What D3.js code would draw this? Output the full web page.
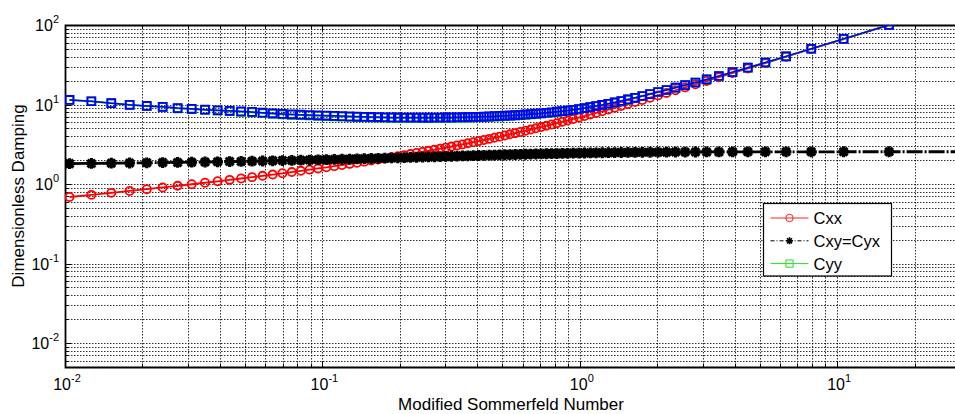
<!doctype html>
<html lang="en">
<head>
	<meta charset="UTF-8">
	<title>Dimensionless Damping vs Modified Sommerfeld Number</title>
	<style>
		body { margin: 0; background: #fff; }
		svg { display: block; font-family: Arial, "Liberation Sans", sans-serif; }
		.grid line { stroke: #000; stroke-width: 1; stroke-dasharray: 1.5, 1.5; opacity: 0.8; }
		.tick-label { font-size: 16px; fill: #000; }
		.axis-title { font-size: 17px; fill: #000; }
		.legend-text { font-size: 16.5px; fill: #000; }
	</style>
</head>
<body>
	<script src="https://cdn.jsdelivr.net/npm/d3@7"></script>
	<script>
		// modified Sommerfeld number for eccentricity 0.01 ... 0.90
		var sommerfeld = [
			31.82, 15.90, 10.59, 7.928, 6.329, 5.261, 4.496, 3.920, 3.471, 3.110,
			2.814, 2.565, 2.354, 2.172, 2.014, 1.874, 1.750, 1.639, 1.539, 1.449,
			1.366, 1.291, 1.222, 1.157, 1.098, 1.043, 0.9919, 0.9429, 0.8976, 0.8551,
			0.8150, 0.7771, 0.7413, 0.7073, 0.6751, 0.6444, 0.6152, 0.5874, 0.5609, 0.5355,
			0.5113, 0.4880, 0.4658, 0.4445, 0.4240, 0.4044, 0.3855, 0.3674, 0.3499, 0.3332,
			0.3170, 0.3015, 0.2866, 0.2722, 0.2583, 0.2450, 0.2322, 0.2198, 0.2079, 0.1964,
			0.1854, 0.1748, 0.1646, 0.1548, 0.1454, 0.1363, 0.1276, 0.1192, 0.1112, 0.1036,
			0.09621, 0.08918, 0.08246, 0.07605, 0.06993, 0.06411, 0.05857, 0.05331, 0.04833, 0.04362,
			0.03917, 0.03499, 0.03106, 0.02739, 0.02396, 0.02078, 0.01783, 0.01513, 0.01266, 0.01041
		];

		var cxx = [
			200.0, 99.96, 66.60, 49.92, 39.89, 33.21, 28.42, 24.83, 22.03, 19.79,
			17.95, 16.42, 15.11, 13.99, 13.02, 12.17, 11.41, 10.74, 10.13, 9.587,
			9.091, 8.638, 8.224, 7.842, 7.489, 7.162, 6.858, 6.575, 6.310, 6.061,
			5.828, 5.608, 5.400, 5.204, 5.018, 4.841, 4.674, 4.514, 4.362, 4.216,
			4.078, 3.945, 3.817, 3.695, 3.578, 3.465, 3.356, 3.252, 3.151, 3.054,
			2.960, 2.869, 2.782, 2.697, 2.615, 2.535, 2.458, 2.383, 2.310, 2.239,
			2.170, 2.103, 2.038, 1.974, 1.912, 1.852, 1.793, 1.735, 1.679, 1.624,
			1.570, 1.517, 1.466, 1.415, 1.365, 1.316, 1.268, 1.221, 1.174, 1.128,
			1.083, 1.038, 0.9933, 0.9492, 0.9054, 0.8617, 0.8182, 0.7747, 0.7309, 0.6869
		];

		var cxy = [
			2.546, 2.546, 2.545, 2.544, 2.543, 2.541, 2.540, 2.538, 2.535, 2.532,
			2.530, 2.526, 2.523, 2.519, 2.515, 2.511, 2.507, 2.502, 2.497, 2.492,
			2.486, 2.480, 2.475, 2.468, 2.462, 2.455, 2.449, 2.442, 2.434, 2.427,
			2.419, 2.412, 2.404, 2.395, 2.387, 2.379, 2.370, 2.361, 2.352, 2.343,
			2.334, 2.324, 2.315, 2.305, 2.295, 2.286, 2.276, 2.265, 2.255, 2.245,
			2.235, 2.224, 2.214, 2.203, 2.192, 2.182, 2.171, 2.160, 2.149, 2.138,
			2.127, 2.116, 2.105, 2.094, 2.083, 2.071, 2.060, 2.049, 2.038, 2.027,
			2.016, 2.004, 1.993, 1.982, 1.971, 1.960, 1.948, 1.937, 1.926, 1.915,
			1.904, 1.893, 1.882, 1.871, 1.860, 1.849, 1.838, 1.827, 1.817, 1.806
		];

		var cyy = [
			200.1, 100.1, 66.87, 50.27, 40.34, 33.74, 29.05, 25.55, 22.84, 20.68,
			18.93, 17.49, 16.27, 15.24, 14.36, 13.52, 12.79, 12.15, 11.58, 11.08,
			10.62, 10.23, 9.881, 9.567, 9.281, 9.021, 8.783, 8.576, 8.386, 8.212,
			8.061, 7.923, 7.805, 7.690, 7.584, 7.495, 7.407, 7.325, 7.259, 7.191,
			7.130, 7.081, 7.030, 6.984, 6.943, 6.914, 6.882, 6.853, 6.829, 6.807,
			6.790, 6.776, 6.765, 6.758, 6.753, 6.753, 6.754, 6.759, 6.767, 6.779,
			6.792, 6.818, 6.846, 6.878, 6.913, 6.952, 6.995, 7.042, 7.092, 7.148,
			7.209, 7.274, 7.346, 7.424, 7.508, 7.641, 7.784, 7.979, 8.100, 8.233,
			8.378, 8.538, 8.761, 8.958, 9.323, 9.572, 9.901, 10.39, 10.98, 11.42
		];

		// second Cyy trace (blue squares, no legend entry)
		var cyyBlue = [
			200.1, 100.1, 66.87, 50.27, 40.34, 33.74, 29.05, 25.55, 22.84, 20.68,
			18.93, 17.49, 16.27, 15.24, 14.36, 13.52, 12.79, 12.15, 11.58, 11.08,
			10.62, 10.23, 9.881, 9.567, 9.281, 9.021, 8.783, 8.576, 8.386, 8.25,
			8.12, 7.99, 7.88, 7.77, 7.67, 7.58, 7.50, 7.42, 7.36, 7.29,
			7.24, 7.19, 7.14, 7.09, 7.05, 7.02, 6.99, 6.96, 6.93, 6.91,
			6.89, 6.88, 6.87, 6.86, 6.85, 6.85, 6.86, 6.86, 6.87, 6.88,
			6.89, 6.92, 6.95, 6.98, 7.02, 7.06, 7.10, 7.15, 7.20, 7.26,
			7.32, 7.38, 7.45, 7.53, 7.62, 7.75, 7.89, 8.08, 8.20, 8.33,
			8.47, 8.62, 8.83, 9.01, 9.35, 9.59, 9.91, 10.39, 10.98, 11.42
		];

		var xTickExponents = [-2, -1, 0, 1];
		var yTickExponents = [-2, -1, 0, 1, 2];
		var legendLabels = ['Cxx', 'Cxy=Cyx', 'Cyy'];

		var w = 955,
			h = 414,
			plotLeft = 65,
			plotRight = 960,
			plotTop = 25,
			plotBottom = 367;

		var svg = d3.select('body')
			.append('svg')
			.attr('width', w)
			.attr('height', h);

		var xScale = d3.scaleLog()
			.domain([0.01, 30])
			.range([plotLeft, plotRight]);

		var yScale = d3.scaleLog()
			.domain([0.005, 100])
			.range([plotBottom, plotTop]);

		/**
		* all tick values (major and minor) inside a log domain
		*/
		var logTicks = function(domain) {
			var vals = [];
			for (var e = -4; e <= 3; e++) {
				for (var m = 1; m <= 9; m++) {
					var v = m * Math.pow(10, e);
					if (v >= domain[0] * 0.999 && v <= domain[1] * 1.001) {
						vals.push({ v: v, major: m === 1 });
					}
				}
			}
			return vals;
		};

		var xTicks = logTicks(xScale.domain());
		var yTicks = logTicks(yScale.domain());

		// grid
		var grid = svg.append('g').attr('class', 'grid');
		grid.selectAll('line.gx')
			.data(xTicks)
			.enter()
			.append('line')
			.attr('x1', function(d) { return Math.round(xScale(d.v)) + 0.5; })
			.attr('x2', function(d) { return Math.round(xScale(d.v)) + 0.5; })
			.attr('y1', plotTop)
			.attr('y2', plotBottom);
		grid.selectAll('line.gy')
			.data(yTicks)
			.enter()
			.append('line')
			.attr('y1', function(d) { return Math.round(yScale(d.v)) + 0.5; })
			.attr('y2', function(d) { return Math.round(yScale(d.v)) + 0.5; })
			.attr('x1', plotLeft)
			.attr('x2', plotRight);

		// inner tick marks on bottom, top and left
		var ticks = svg.append('g')
			.attr('stroke', '#000')
			.attr('stroke-width', 1);
		xTicks.forEach(function(d) {
			var x = Math.round(xScale(d.v)) + 0.5,
				len = d.major ? 6 : 3.5;
			ticks.append('line').attr('x1', x).attr('x2', x).attr('y1', plotBottom).attr('y2', plotBottom - len);
			ticks.append('line').attr('x1', x).attr('x2', x).attr('y1', plotTop).attr('y2', plotTop + len);
		});
		yTicks.forEach(function(d) {
			var y = Math.round(yScale(d.v)) + 0.5,
				len = d.major ? 6 : 3.5;
			ticks.append('line').attr('x1', plotLeft).attr('x2', plotLeft + len).attr('y1', y).attr('y2', y);
		});

		// box
		svg.append('path')
			.attr('d', 'M' + plotRight + ',' + (plotTop + 0.5) + 'H' + (plotLeft + 0.5) + 'V' + (plotBottom + 0.5) + 'H' + plotRight)
			.attr('fill', 'none')
			.attr('stroke', '#000')
			.attr('stroke-width', 1.8);

		// tick labels: 10 with superscript exponent
		var labelPow = function(sel) {
			sel.append('tspan').text('10');
			sel.append('tspan')
				.attr('dy', -8)
				.attr('font-size', 11)
				.text(function(d) { return d; });
		};

		svg.selectAll('text.xlab')
			.data(xTickExponents)
			.enter()
			.append('text')
			.attr('class', 'tick-label')
			.attr('x', function(d) { return xScale(Math.pow(10, d)) + 2; })
			.attr('y', 390)
			.attr('text-anchor', 'middle')
			.call(labelPow);

		svg.selectAll('text.ylab')
			.data(yTickExponents)
			.enter()
			.append('text')
			.attr('class', 'tick-label')
			.attr('x', 59)
			.attr('y', function(d) { return yScale(Math.pow(10, d)) + 6; })
			.attr('text-anchor', 'end')
			.call(labelPow);

		// axis titles
		svg.append('text')
			.attr('class', 'axis-title')
			.attr('x', 511)
			.attr('y', 410)
			.attr('text-anchor', 'middle')
			.text('Modified Sommerfeld Number');

		svg.append('text')
			.attr('class', 'axis-title')
			.attr('transform', 'translate(24,' + ((plotTop + plotBottom) / 2) + ') rotate(-90)')
			.attr('text-anchor', 'middle')
			.text('Dimensionless Damping');

		// series
		svg.append('clipPath')
			.attr('id', 'plotClip')
			.append('rect')
			.attr('x', plotLeft)
			.attr('y', plotTop)
			.attr('width', plotRight - plotLeft)
			.attr('height', plotBottom - plotTop);

		var plot = svg.append('g').attr('clip-path', 'url(#plotClip)');

		var toPoints = function(values) {
			return values.map(function(v, i) { return [sommerfeld[i], v]; });
		};

		var line = d3.line()
			.x(function(d) { return xScale(d[0]); })
			.y(function(d) { return yScale(d[1]); });

		var starPath = function(r) {
			var q = r * 0.72;
			return 'M0,' + (-r) + 'V' + r + 'M' + (-r) + ',0H' + r +
				'M' + (-q) + ',' + (-q) + 'L' + q + ',' + q + 'M' + (-q) + ',' + q + 'L' + q + ',' + (-q);
		};

		var drawSeries = function(values, color, width, dash, marker) {
			var pts = toPoints(values);
			plot.append('path')
				.datum(pts)
				.attr('d', line)
				.attr('fill', 'none')
				.attr('stroke', color)
				.attr('stroke-width', width)
				.attr('stroke-dasharray', dash);

			var m = plot.selectAll(null)
				.data(pts)
				.enter()
				.append('path')
				.attr('transform', function(d) { return 'translate(' + xScale(d[0]) + ',' + yScale(d[1]) + ')'; })
				.attr('fill', 'none')
				.attr('stroke', color);

			if (marker === 'circle') {
				m.attr('d', d3.symbol(d3.symbolCircle, 52)).attr('stroke-width', 1.8);
			} else if (marker === 'square') {
				m.attr('d', d3.symbol(d3.symbolSquare, 62)).attr('stroke-width', 1.8);
			} else {
				m.attr('d', starPath(5.4)).attr('stroke-width', 3.2);
			}
		};

		drawSeries(cxx, '#ff0000', 1.8, null, 'circle');
		drawSeries(cxy, '#000000', 2.8, '16,2,2,2', 'star');
		drawSeries(cyy, '#00c000', 1.8, null, 'square');
		drawSeries(cyyBlue, '#0000ff', 1.5, null, 'square');

		// legend
		var legend = svg.append('g').attr('transform', 'translate(763.5,203.5)');
		legend.append('rect')
			.attr('width', 128)
			.attr('height', 72.5)
			.attr('fill', '#fff')
			.attr('stroke', '#000')
			.attr('stroke-width', 1.2);

		var legendColors = ['#ff2020', '#000000', '#20e020'];
		var legendDash = [null, '4,2,1,2', null];
		var legendMarker = ['circle', 'star', 'square'];

		legendLabels.forEach(function(label, i) {
			var y = 14.5 + i * 22.8;
			legend.append('line')
				.attr('x1', 7).attr('x2', 45)
				.attr('y1', y).attr('y2', y)
				.attr('stroke', legendColors[i])
				.attr('stroke-width', 1)
				.attr('stroke-dasharray', legendDash[i]);
			var mk = legend.append('path')
				.attr('transform', 'translate(26,' + y + ')')
				.attr('fill', 'none')
				.attr('stroke', legendColors[i])
				.attr('stroke-width', 1);
			if (legendMarker[i] === 'circle') {
				mk.attr('d', d3.symbol(d3.symbolCircle, 44));
			} else if (legendMarker[i] === 'square') {
				mk.attr('d', d3.symbol(d3.symbolSquare, 52));
			} else {
				mk.attr('d', starPath(3.5)).attr('stroke-width', 1.6);
			}
			legend.append('text')
				.attr('class', 'legend-text')
				.attr('x', 50)
				.attr('y', y + 6)
				.text(label);
		});
	</script>
</body>
</html>
